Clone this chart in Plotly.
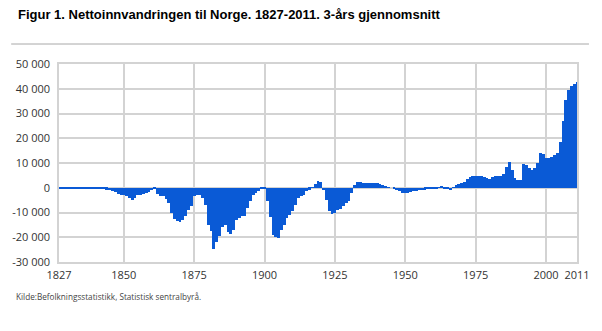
import plotly.graph_objects as go

# Net immigration to Norway, 3-year moving average, one value per year 1827-2011
years = list(range(1827, 2012))
net_immigration = [
    -200, -250, -300, -300, -250, -300, -350, -300, -300, -350,          # 1827-1836
    -400, -350, -400, -450, -500, -600, -700, -800, -900, -1200,         # 1837-1846
    -1800, -2400, -2800, -3000, -3500, -4300, -4800, -4000, -3000, -2800,  # 1847-1856
    -2600, -2200, -1800, -1000, -600, -2500, -3500, -3200, -4500, -6000,   # 1857-1866
    -10000, -12500, -13500, -13800, -13000, -11500, -9000, -7500, -3500, -3000,  # 1867-1876
    -2800, -4000, -7000, -15000, -17500, -24800, -22000, -19500, -16000, -15000,  # 1877-1886
    -18000, -18500, -17000, -13000, -12300, -11500, -11500, -8000, -5500, -2800,  # 1887-1896
    -2200, -1200, -400, -200, -5500, -12000, -19000, -20000, -20300, -17000,      # 1897-1906
    -15000, -12300, -11000, -9500, -7000, -4000, -3200, -2800, -1500, -800,       # 1907-1916
    -100, 1500, 2600, 2500, -1000, -5000, -9500, -10500, -10000, -9000,           # 1917-1926
    -8500, -7500, -6000, -5500, -2000, 1200, 2200, 2200, 2100, 2100,              # 1927-1936
    2000, 2000, 1900, 1800, 1500, 1000, 600, 200, 0, -500,                        # 1937-1946
    -1000, -1500, -2000, -2100, -2200, -1600, -1400, -1200, -1100, -1000,         # 1947-1956
    -800, -700, -600, -500, -400, 300, 600, -300, -600, -1000,                    # 1957-1966
    200, 1200, 1500, 2000, 2500, 3500, 4300, 4700, 4900, 4800,                    # 1967-1976
    4600, 4200, 3800, 3700, 4500, 4700, 4800, 4800, 5500, 8500,                   # 1977-1986
    10300, 7200, 3800, 3000, 3200, 9500, 9200, 8000, 7100, 8000,                  # 1987-1996
    10000, 14000, 13500, 12000, 12000, 12500, 13200, 14000, 18500, 27000,         # 1997-2006
    35500, 39500, 41000, 42000, 42700,                                            # 2007-2011
]

x_ticks = [1827, 1850, 1875, 1900, 1925, 1950, 1975, 2000, 2011]
y_ticks = [-30000, -20000, -10000, 0, 10000, 20000, 30000, 40000, 50000]
y_tick_text = ["-30 000", "-20 000", "-10 000", "0", "10 000", "20 000",
               "30 000", "40 000", "50 000"]

title_text = "Figur 1. Nettoinnvandringen til Norge. 1827-2011. 3-års gjennomsnitt"
source_text = "Kilde:Befolkningsstatistikk, Statistisk sentralbyrå."

BAR_COLOR = "#0a5ad6"
GRID = "#d3d3d3"
TICK_FONT = dict(family="Open Sans", size=11, color="#333333")

fig = go.Figure(
    go.Bar(
        x=years,
        y=net_immigration,
        width=1,
        marker=dict(color=BAR_COLOR, line=dict(width=0)),
        hoverinfo="x+y",
    )
)

W, H = 602, 331
L, R, T, B = 58, 24, 64, 69
plot_w = W - L - R
plot_h = H - T - B

fig.update_layout(
    width=W,
    height=H,
    margin=dict(l=L, r=R, t=T, b=B, pad=0),
    paper_bgcolor="white",
    plot_bgcolor="white",
    bargap=0,
    showlegend=False,
    title=dict(
        text=title_text,
        x=18 / W,
        xanchor="left",
        xref="container",
        y=1 - 14 / H,
        yanchor="middle",
        yref="container",
        font=dict(family="Liberation Sans", size=13, color="black", weight="bold"),
    ),
    xaxis=dict(
        range=[1827, 2011],
        tickmode="array",
        tickvals=x_ticks,
        ticktext=[str(v) for v in x_ticks],
        showgrid=True,
        gridcolor=GRID,
        gridwidth=1.5,
        showline=True,
        mirror=True,
        linecolor=GRID,
        linewidth=1.5,
        zeroline=False,
        ticks="",
        ticklabelstandoff=2,
        tickfont=TICK_FONT,
        fixedrange=True,
    ),
    yaxis=dict(
        range=[-30000, 50000],
        tickmode="array",
        tickvals=y_ticks,
        ticktext=y_tick_text,
        showgrid=True,
        gridcolor=GRID,
        gridwidth=1.5,
        showline=True,
        mirror=True,
        linecolor=GRID,
        linewidth=1.5,
        zeroline=False,
        ticks="",
        ticklabelstandoff=5,
        tickfont=TICK_FONT,
        fixedrange=True,
    ),
    shapes=[
        dict(
            type="line",
            xref="paper",
            yref="paper",
            x0=(10 - L) / plot_w,
            x1=(590 - L) / plot_w,
            y0=(H - B - 44) / plot_h,
            y1=(H - B - 44) / plot_h,
            line=dict(color="#a8a8a8", width=1),
        )
    ],
    annotations=[
        dict(
            text=source_text,
            xref="paper",
            yref="paper",
            x=(13 - L) / plot_w,
            y=(H - B - 296) / plot_h,
            xanchor="left",
            yanchor="middle",
            showarrow=False,
            font=dict(family="Open Sans", size=8.2, color="#444444"),
        )
    ],
)

fig.write_html("out.html")
